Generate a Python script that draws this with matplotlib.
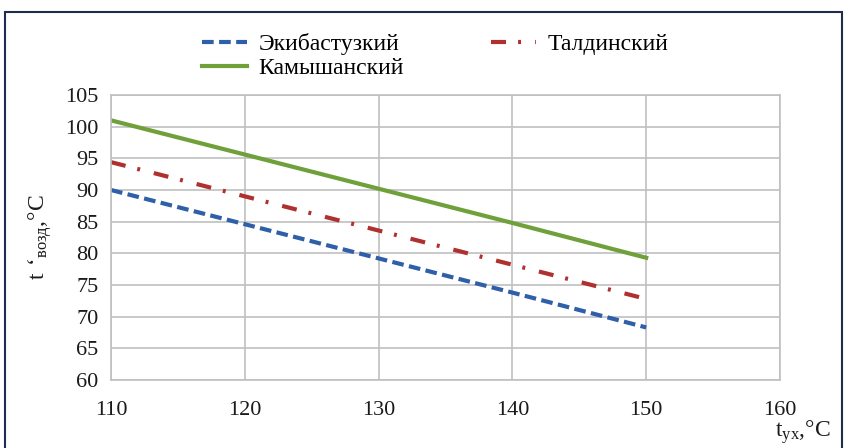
import numpy as np
import matplotlib
matplotlib.use('Agg')
import matplotlib.pyplot as plt
from matplotlib.patches import Rectangle

plt.rcParams['font.family'] = ['Liberation Serif', 'DejaVu Serif']
plt.rcParams['mathtext.fontset'] = 'custom'
plt.rcParams['mathtext.rm'] = 'Liberation Serif'
plt.rcParams['mathtext.default'] = 'regular'

# data
t_ux = [110, 120, 130, 140, 150]
ekibastuz = [90.0, 84.6, 79.2, 73.8, 68.3]
taldinsky = [94.4, 89.0, 83.6, 78.2, 72.8]
kamyshansky = [101.0, 95.6, 90.2, 84.8, 79.3]
x_ticks = [110, 120, 130, 140, 150, 160]
y_ticks = [60, 65, 70, 75, 80, 85, 90, 95, 100, 105]

fig = plt.figure(figsize=(8.45, 4.48), dpi=100)
ax = fig.add_axes([111 / 845, 1 - 380 / 448, 669 / 845, 285 / 448])

l1, = ax.plot(t_ux, ekibastuz, color='#2e5fa8', lw=3, dashes=(2.8, 1.3),
              label='Экибастузкий')
l2, = ax.plot(t_ux, taldinsky, color='#b03030', lw=3,
              dashes=(3.6, 2.9, 0.7, 3.4), label='Талдинский')
l3, = ax.plot(t_ux, kamyshansky, color='#70a03a', lw=3, label='Камышанский')

ax.set_xlim(110, 160)
ax.set_ylim(60, 105)
ax.set_xticks(x_ticks)
ax.set_yticks(y_ticks)
ax.grid(True, color='#c0c0c0', lw=1.2)
ax.set_axisbelow(True)
for s in ax.spines.values():
    s.set_color('#c0c0c0')
    s.set_linewidth(1.2)
ax.tick_params(length=0, labelsize=16, colors='#1a1a1a')
ax.tick_params(axis='x', pad=15)
ax.tick_params(axis='y', pad=9)

fig.text(0.047, 0.47, "$t\\ \u2018_{возд}{,}°C$", rotation=90, fontsize=17,
         ha='center', va='center', color='#1a1a1a')
fig.text(775 / 845, 0.035, "$t_{ух}{,}°C$", fontsize=17, ha='left',
         va='center', color='#1a1a1a')

# column-major fill: row 1 = Экибастузкий, Талдинский; row 2 = Камышанский
fig.legend([l1, l3, l2], [l1.get_label(), l3.get_label(), l2.get_label()],
           loc='center', bbox_to_anchor=(0.515, 0.875), ncol=2,
           frameon=False, fontsize=17, handlelength=1.9, columnspacing=3.7,
           labelspacing=0.12, handletextpad=0.5)

fig.patches.append(Rectangle((5 / 845, -0.02), 837 / 845, 1.02 - 12 / 448,
                             transform=fig.transFigure, fill=False,
                             edgecolor='#1f2d4d', lw=1.5))

fig.savefig('out.png', dpi=100)
